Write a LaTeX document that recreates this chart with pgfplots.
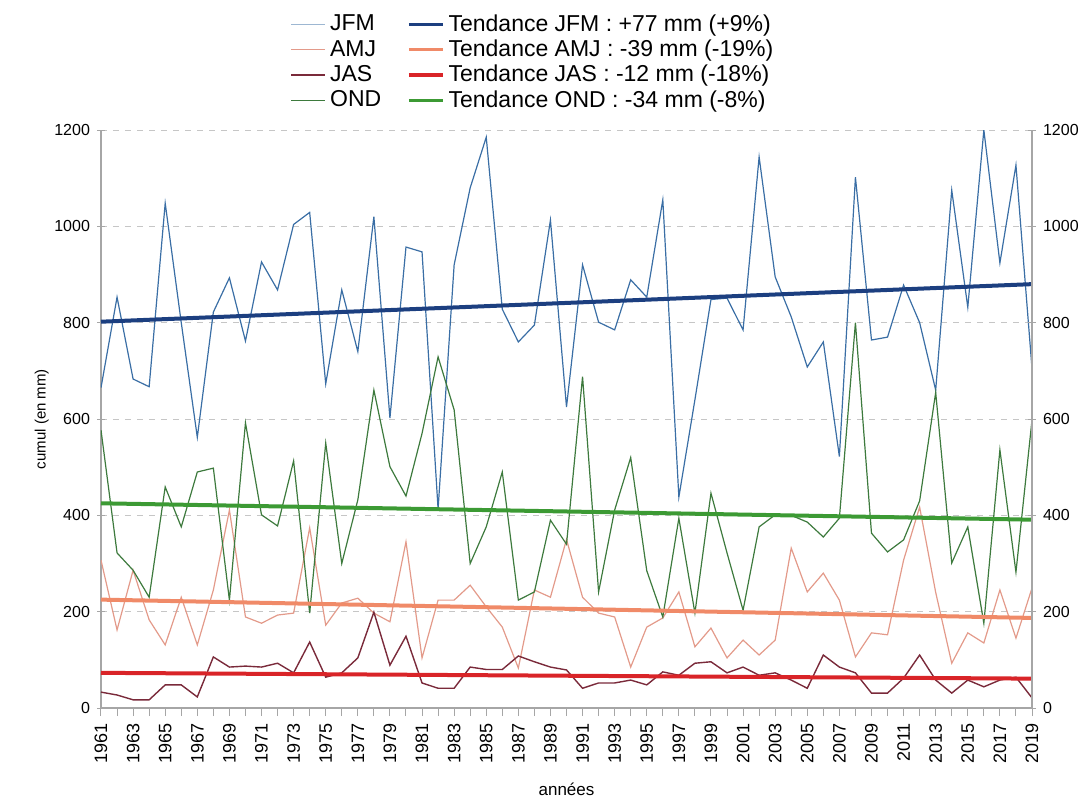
\documentclass[border=0pt]{standalone}
\usepackage{fontspec}
\setmainfont{Liberation Sans}
\usepackage{pgfplots}
\usepackage{pgfplotstable}
\pgfplotsset{compat=1.18}
\definecolor{cjfm}{HTML}{3A6EA5}
\definecolor{camj}{HTML}{E39A8A}
\definecolor{cjas}{HTML}{7A2A3A}
\definecolor{cond}{HTML}{3D7A3D}
\definecolor{tjfm}{HTML}{1C3F80}
\definecolor{tamj}{HTML}{F08A68}
\definecolor{tjas}{HTML}{D92428}
\definecolor{tond}{HTML}{3C9A34}
\pgfplotstableread{
year jfm amj jas ond
1961 665 307 33 577
1962 853 162 27 322
1963 683 286 17 286
1964 667 183 17 230
1965 1048 131 48 459
1966 800 230 48 376
1967 562 131 23 490
1968 822 245 106 498
1969 893 411 85 224
1970 762 189 87 592
1971 926 176 85 401
1972 868 193 93 378
1973 1004 197 73 513
1974 1029 374 137 197
1975 673 172 64 550
1976 868 218 73 300
1977 740 228 104 432
1978 1020 197 199 660
1979 602 179 89 501
1980 957 345 149 440
1981 947 104 52 570
1982 413 224 41 729
1983 920 224 41 619
1984 1080 255 85 300
1985 1185 210 80 376
1986 828 168 80 490
1987 760 83 108 224
1988 795 245 96 241
1989 1013 230 85 390
1990 625 350 79 340
1991 920 230 41 688
1992 801 197 52 241
1993 785 189 52 411
1994 889 85 58 520
1995 853 168 48 285
1996 1055 187 75 189
1997 438 241 68 394
1998 640 127 93 197
1999 848 166 96 446
2000 851 104 73 322
2001 785 141 85 203
2002 1144 110 68 376
2003 895 141 73 401
2004 812 332 58 400
2005 708 241 41 386
2006 760 280 110 355
2007 522 224 85 394
2008 1102 106 73 800
2009 764 156 31 363
2010 770 152 31 324
2011 878 307 62 349
2012 800 417 110 430
2013 660 240 58 655
2014 1075 93 31 301
2015 832 156 58 376
2016 1200 135 44 176
2017 924 245 58 536
2018 1127 145 64 282
2019 705 249 21 598
}\datatable
\begin{document}
\begin{tikzpicture}
\begin{axis}[name=main,
  scale only axis, width=465.5pt, height=289pt,
  xmin=1961, xmax=2019, ymin=0, ymax=1200,
  axis x line*=bottom, axis y line*=left,
  axis line style={gray!70, line width=0.6pt},
  xtick={1961,1963,...,2019}, minor xtick={1962,1964,...,2018},
  xtick align=outside, ytick align=center,
  major tick length=4pt, minor tick length=4pt,
  tick style={gray!70, line width=0.5pt},
  x tick label style={rotate=90, anchor=east, font=\fontsize{9}{10}\selectfont},
  y tick label style={font=\fontsize{8}{9}\selectfont},
  /pgf/number format/1000 sep={},
  /pgf/number format/assume math mode=true,
  ytick={0,200,...,1200},
  ymajorgrids, major grid style={gray!45, dashed, line width=0.4pt},
  xlabel={années}, xlabel style={font=\fontsize{8.5}{10}\selectfont, yshift=-3pt},
  ylabel={cumul (en mm)}, ylabel style={font=\fontsize{7.5}{9}\selectfont, yshift=-4pt},
  legend columns=2,
  legend style={at={(0.465,1.209)}, anchor=north, draw=none, fill=none,
    font=\fontsize{11.5}{12.5}\selectfont, row sep=1.8pt,
    nodes={inner ysep=0.5pt, inner xsep=2pt},
    /tikz/every even column/.append style={column sep=11pt}},
  legend cell align=left,
]
\addplot[cjfm, line width=0.6pt, forget plot] table[x=year,y=jfm]{\datatable};
\addplot[camj, line width=0.6pt, forget plot] table[x=year,y=amj]{\datatable};
\addplot[cjas, line width=0.7pt, forget plot] table[x=year,y=jas]{\datatable};
\addplot[cond, line width=0.6pt, forget plot] table[x=year,y=ond]{\datatable};
\addplot[tjfm, line width=2pt, forget plot] coordinates {(1961,802) (2019,880)};
\addplot[tamj, line width=2pt, forget plot] coordinates {(1961,225) (2019,187)};
\addplot[tjas, line width=2pt, forget plot] coordinates {(1961,73) (2019,61)};
\addplot[tond, line width=2pt, forget plot] coordinates {(1961,425) (2019,391)};
\addlegendimage{cjfm!50, line width=0.6pt}\addlegendentry{JFM}
\addlegendimage{tjfm, line width=1.6pt}\addlegendentry{Tendance JFM : +77 mm (+9\%)}
\addlegendimage{camj, line width=0.6pt}\addlegendentry{AMJ}
\addlegendimage{tamj, line width=1.6pt}\addlegendentry{Tendance AMJ : -39 mm (-19\%)}
\addlegendimage{cjas, line width=0.7pt}\addlegendentry{JAS}
\addlegendimage{tjas, line width=1.6pt}\addlegendentry{Tendance JAS : -12 mm (-18\%)}
\addlegendimage{cond, line width=0.6pt}\addlegendentry{OND}
\addlegendimage{tond, line width=1.6pt}\addlegendentry{Tendance OND : -34 mm (-8\%)}
\end{axis}
\begin{axis}[
  scale only axis, width=465.5pt, height=289pt,
  xmin=1961, xmax=2019, ymin=0, ymax=1200,
  axis x line=none, axis y line*=right,
  axis line style={gray!70, line width=0.6pt},
  ytick={0,200,...,1200}, ytick align=center, major tick length=4pt,
  tick style={gray!70, line width=0.5pt},
  y tick label style={font=\fontsize{8}{9}\selectfont},
  /pgf/number format/1000 sep={},
  /pgf/number format/assume math mode=true,
]
\end{axis}
\pgfresetboundingbox
\path ([shift={(-50.5pt,-48.5pt)}]main.south west) rectangle ([shift={(27pt,65pt)}]main.north east);
\end{tikzpicture}
\end{document}
